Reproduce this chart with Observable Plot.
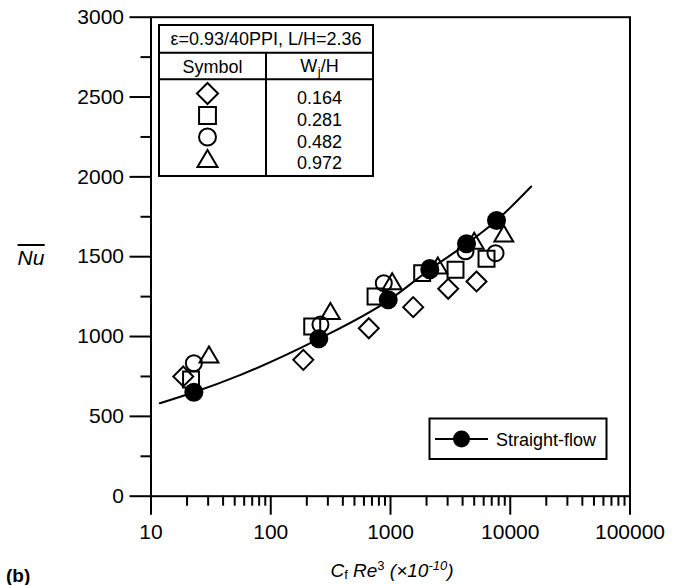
<!DOCTYPE html>
<html>
<head>
<meta charset="utf-8">
<script src="https://cdn.jsdelivr.net/npm/d3@7"></script>
<script src="https://cdn.jsdelivr.net/npm/@observablehq/plot@0.6"></script>
<style>
  html, body { margin: 0; padding: 0; background: white; }
  svg { display: block; }
</style>
</head>
<body>
<script>
// ---- tick values ----
const xTicks = [10, 100, 1000, 10000, 100000];
const yTicks = [0, 500, 1000, 1500, 2000, 2500, 3000];
const yMinorTicks = [250, 750, 1250, 1750, 2250, 2750];

// ---- series: Wj/H = 0.164 (diamond) ----
const diamondX = [18.6, 187, 659, 1547, 3033, 5226];
const diamondY = [750, 854, 1052, 1184, 1299, 1345];
// ---- Wj/H = 0.281 (square) ----
const squareX = [21.6, 222, 750, 1839, 3490, 6335];
const squareY = [731, 1063, 1251, 1397, 1418, 1487];
// ---- Wj/H = 0.482 (circle) ----
const circleX = [22.8, 260, 879, 2129, 4230, 7533];
const circleY = [833, 1075, 1334, 1430, 1534, 1522];
// ---- Wj/H = 0.972 (triangle) ----
const triangleX = [30.5, 315, 1033, 2483, 5000, 8832];
const triangleY = [887, 1160, 1346, 1445, 1600, 1645];
// ---- Straight-flow (filled circle) ----
const straightX = [22.8, 252, 957, 2129, 4313, 7677];
const straightY = [651, 986, 1230, 1418, 1581, 1727];
// ---- Straight-flow curve ----
const curveX = [11.85, 22.8, 56, 252, 957, 2129, 4313, 7677, 14960];
const curveY = [582, 651, 760, 985, 1225, 1420, 1580, 1727, 1940];

const legendLabels = ["0.164", "0.281", "0.482", "0.972"];

const toRows = (xs, ys) => xs.map((x, i) => ({x, y: ys[i]}));

// minor log ticks
const xMinor = [];
for (let d = 10; d < 100000; d *= 10) for (let k = 2; k <= 9; k++) xMinor.push(d * k);

// bbox-centred triangle symbol
const triSym = {
  draw(ctx, size) {
    const r = Math.sqrt(size / Math.PI);
    const hw = r * 1.18, h = hw * 1.70;
    ctx.moveTo(0, -h / 2);
    ctx.lineTo(hw, h / 2);
    ctx.lineTo(-hw, h / 2);
    ctx.closePath();
  }
};

const FONT = "'Liberation Sans', Arial, Helvetica, sans-serif";
const mk = {stroke: "black", strokeWidth: 2, fill: "none"};

const chart = Plot.plot({
  width: 681,
  height: 585,
  marginLeft: 150.5,
  marginRight: 51.5,
  marginTop: 16.7,
  marginBottom: 89.3,
  x: {type: "log", domain: [10, 100000]},
  y: {domain: [0, 3000]},
  style: {fontFamily: FONT, color: "black", background: "white", overflow: "visible"},
  marks: [
    Plot.axisX({ticks: xMinor, tickSize: 10, tickFormat: () => "", label: null, strokeWidth: 2}),
    Plot.axisX({ticks: xTicks, tickSize: 19, tickPadding: 9, tickFormat: d => String(d), label: null, strokeWidth: 2, fontSize: 21}),
    Plot.axisY({ticks: yMinorTicks, tickSize: 10, tickFormat: () => "", label: null, strokeWidth: 2}),
    Plot.axisY({ticks: yTicks, tickSize: 21, tickPadding: 6, tickFormat: d => String(d), label: null, strokeWidth: 2, fontSize: 21}),
    Plot.frame({stroke: "black", strokeWidth: 2}),
    Plot.line(toRows(curveX, curveY), {x: "x", y: "y", curve: "monotone-x", stroke: "black", strokeWidth: 2}),
    Plot.dot(toRows(diamondX, diamondY), {x: "x", y: "y", symbol: "diamond2", r: 9, ...mk}),
    Plot.dot(toRows(squareX, squareY), {x: "x", y: "y", symbol: "square", r: 9, ...mk}),
    Plot.dot(toRows(circleX, circleY), {x: "x", y: "y", symbol: "circle", r: 8, ...mk}),
    Plot.dot(toRows(triangleX, triangleY), {x: "x", y: "y", symbol: triSym, r: 8, ...mk}),
    Plot.dot(toRows(straightX, straightY), {x: "x", y: "y", symbol: "circle", r: 9.5, fill: "black", stroke: "none"})
  ]
});
document.body.appendChild(chart);

const svg = d3.select(chart);
const g = svg.append("g").attr("font-family", FONT).attr("fill", "black").attr("text-anchor", "start");

// ---- y label: overlined italic Nu ----
const nu = g.append("text").attr("x", 31).attr("y", 265).attr("text-anchor", "middle")
  .attr("font-size", 21).attr("font-style", "italic").text("Nu");
const nb = nu.node().getBBox();
g.append("line").attr("x1", nb.x).attr("x2", nb.x + nb.width).attr("y1", nb.y - 1).attr("y2", nb.y - 1)
  .attr("stroke", "black").attr("stroke-width", 2);

// ---- x label ----
const xl = g.append("text").attr("x", 392).attr("y", 577).attr("text-anchor", "middle").attr("font-size", 19);
xl.append("tspan").attr("font-style", "italic").text("C");
xl.append("tspan").attr("font-size", 13).attr("dy", 2).text("f");
xl.append("tspan").attr("font-style", "italic").attr("dy", -2).text(" Re");
xl.append("tspan").attr("font-size", 13).attr("dy", -7).text("3");
xl.append("tspan").attr("font-style", "italic").attr("dy", 7).text(" (\u00d710");
xl.append("tspan").attr("font-style", "italic").attr("font-size", 13).attr("dy", -7).text("-10");
xl.append("tspan").attr("font-style", "italic").attr("dy", 7).text(")");

// ---- (b) ----
g.append("text").attr("x", 6).attr("y", 582).attr("text-anchor", "start").attr("font-size", 19).attr("font-weight", "bold").text("(b)");

// ---- table legend ----
const T = {x0: 159, x1: 373, xm: 266, y0: 25, y1: 52.7, y2: 79.3, y3: 176};
const tg = g.append("g");
tg.append("rect").attr("x", T.x0).attr("y", T.y0).attr("width", T.x1 - T.x0).attr("height", T.y3 - T.y0)
  .attr("fill", "white").attr("stroke", "black").attr("stroke-width", 2);
tg.append("line").attr("x1", T.x0).attr("x2", T.x1).attr("y1", T.y1).attr("y2", T.y1).attr("stroke", "black").attr("stroke-width", 2);
tg.append("line").attr("x1", T.x0).attr("x2", T.x1).attr("y1", T.y2).attr("y2", T.y2).attr("stroke", "black").attr("stroke-width", 2);
tg.append("line").attr("x1", T.xm).attr("x2", T.xm).attr("y1", T.y1).attr("y2", T.y3).attr("stroke", "black").attr("stroke-width", 2);
tg.append("text").attr("x", (T.x0 + T.x1) / 2).attr("y", 45).attr("text-anchor", "middle").attr("font-size", 18)
  .text("\u03b5=0.93/40PPI, L/H=2.36");
tg.append("text").attr("x", (T.x0 + T.xm) / 2).attr("y", 73).attr("text-anchor", "middle").attr("font-size", 18).text("Symbol");
const wh = tg.append("text").attr("x", (T.xm + T.x1) / 2).attr("y", 72).attr("text-anchor", "middle").attr("font-size", 18);
wh.append("tspan").text("W");
wh.append("tspan").attr("font-size", 13).attr("dx", 0.5).attr("dy", 4).text("j");
wh.append("tspan").attr("dy", -4).text("/H");

const symTypes = [d3.symbolDiamond2, d3.symbolSquare, d3.symbolCircle, triSym];
const symR = [9.5, 9.5, 8.5, 8.5];
const symY = [93.5, 115.5, 137, 158.5];
legendLabels.forEach((lab, i) => {
  tg.append("path").attr("d", d3.symbol(symTypes[i], Math.PI * symR[i] * symR[i])())
    .attr("transform", `translate(207.5,${symY[i]})`).attr("fill", "none").attr("stroke", "black").attr("stroke-width", 2);
  tg.append("text").attr("x", (T.xm + T.x1) / 2).attr("y", symY[i] + 10.5).attr("text-anchor", "middle")
    .attr("font-size", 18).text(lab);
});

// ---- Straight-flow legend ----
const lg = g.append("g");
lg.append("rect").attr("x", 429.5).attr("y", 418.5).attr("width", 177).attr("height", 40.5)
  .attr("fill", "white").attr("stroke", "black").attr("stroke-width", 2);
lg.append("line").attr("x1", 435).attr("x2", 488).attr("y1", 439).attr("y2", 439).attr("stroke", "black").attr("stroke-width", 2);
lg.append("circle").attr("cx", 461.5).attr("cy", 439).attr("r", 8.5).attr("fill", "black");
lg.append("text").attr("x", 496).attr("y", 445.5).attr("text-anchor", "start").attr("font-size", 18).text("Straight-flow");
</script>
</body>
</html>
